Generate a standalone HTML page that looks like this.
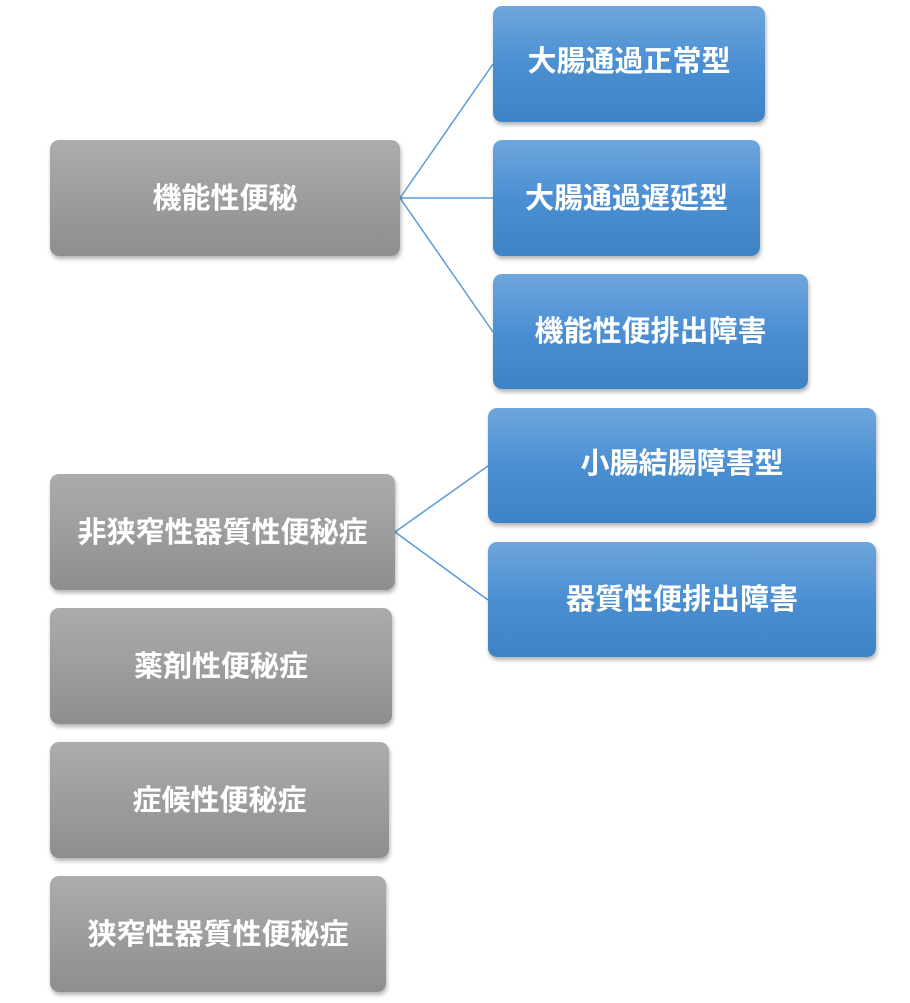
<!DOCTYPE html>
<html><head><meta charset="utf-8"><style>
body{margin:0;width:910px;height:1003px;background:#fff;position:relative;overflow:hidden;font-family:"Liberation Sans","Noto Sans CJK JP",sans-serif;}
.b{position:absolute;border-radius:9px;display:flex;align-items:center;justify-content:center;color:#fff;font-weight:bold;font-size:29px;box-shadow:1px 3px 4px rgba(0,0,0,0.3);box-sizing:border-box;padding-bottom:5px;}
.g{background:linear-gradient(#acacac,#8e8e8e);}
.u{background:linear-gradient(#6ea6dc,#4b8fd3 50%,#3f83c7);}
svg{position:absolute;left:0;top:0;}
</style></head><body>
<svg width="910" height="1003"><g stroke="#5b9bd5" stroke-width="1.5" fill="none">
<line x1="400" y1="198" x2="493" y2="64"/><line x1="400" y1="198" x2="493" y2="198"/><line x1="400" y1="198" x2="493" y2="332"/>
<line x1="395" y1="532" x2="488" y2="466"/><line x1="395" y1="532" x2="488" y2="600"/></g></svg>
<div class="b g" style="left:50px;top:140px;width:350px;height:116px">機能性便秘</div>
<div class="b g" style="left:50px;top:474px;width:345px;height:116px">非狭窄性器質性便秘症</div>
<div class="b g" style="left:50px;top:608px;width:342px;height:116px">薬剤性便秘症</div>
<div class="b g" style="left:50px;top:742px;width:339px;height:116px">症候性便秘症</div>
<div class="b g" style="left:50px;top:876px;width:336px;height:116px">狭窄性器質性便秘症</div>
<div class="b u" style="left:493px;top:6px;width:272px;height:116px;padding-bottom:10px">大腸通過正常型</div>
<div class="b u" style="left:493px;top:140px;width:267px;height:116px">大腸通過遅延型</div>
<div class="b u" style="left:493px;top:274px;width:315px;height:115px">機能性便排出障害</div>
<div class="b u" style="left:488px;top:408px;width:388px;height:115px;padding-bottom:10px">小腸結腸障害型</div>
<div class="b u" style="left:488px;top:542px;width:388px;height:115px">器質性便排出障害</div>
</body></html>
